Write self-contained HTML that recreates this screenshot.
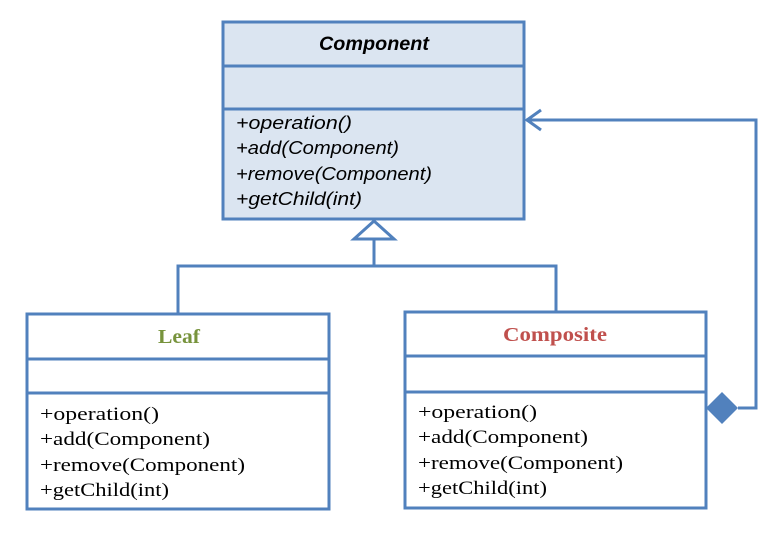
<!DOCTYPE html>
<html><head><meta charset="utf-8"><style>body{margin:0;background:#fff}svg{display:block}</style></head><body>
<svg width="780" height="536" xmlns="http://www.w3.org/2000/svg">
<g stroke="#5181bd" stroke-width="3" fill="none">
<rect x="223" y="22" width="301" height="197" fill="#dbe5f1"/>
<line x1="223" y1="66" x2="524" y2="66"/>
<line x1="223" y1="109" x2="524" y2="109"/>
<rect x="27" y="314" width="302" height="195" fill="#fff"/>
<line x1="27" y1="359" x2="329" y2="359"/>
<line x1="27" y1="393" x2="329" y2="393"/>
<rect x="405" y="312" width="301" height="196" fill="#fff"/>
<line x1="405" y1="356" x2="706" y2="356"/>
<line x1="405" y1="392" x2="706" y2="392"/>
<polyline points="178,314 178,266 556,266 556,312"/>
<line x1="374" y1="266" x2="374" y2="239"/>
<polygon points="374,221 354,239 394,239" fill="#fff"/>
<polyline points="738,408 756,408 756,120 526,120"/>
<polyline points="541,110 527,120 541,130"/>
</g>
<polygon points="706,408 722,392 738,408 722,424" fill="#5181bd"/>
<g font-family="Liberation Sans, sans-serif" font-style="italic" fill="#000" lengthAdjust="spacingAndGlyphs">
<text x="319" y="50" font-weight="bold" font-size="19" textLength="110" lengthAdjust="spacingAndGlyphs">Component</text>
<g font-size="18">
<text x="236" y="129" textLength="116" lengthAdjust="spacingAndGlyphs">+operation()</text>
<text x="236" y="154" textLength="163" lengthAdjust="spacingAndGlyphs">+add(Component)</text>
<text x="236" y="180" textLength="196" lengthAdjust="spacingAndGlyphs">+remove(Component)</text>
<text x="236" y="205" textLength="126" lengthAdjust="spacingAndGlyphs">+getChild(int)</text>
</g></g>
<g font-family="Liberation Serif, serif" fill="#000" font-size="19">
<text x="158" y="343" font-weight="bold" font-size="20" fill="#77933c" textLength="42" lengthAdjust="spacingAndGlyphs">Leaf</text>
<text x="40" y="420" textLength="119" lengthAdjust="spacingAndGlyphs">+operation()</text>
<text x="40" y="445" textLength="170" lengthAdjust="spacingAndGlyphs">+add(Component)</text>
<text x="40" y="471" textLength="205" lengthAdjust="spacingAndGlyphs">+remove(Component)</text>
<text x="40" y="496" textLength="129" lengthAdjust="spacingAndGlyphs">+getChild(int)</text>
<text x="503" y="341" font-weight="bold" font-size="20" fill="#c0504d" textLength="104" lengthAdjust="spacingAndGlyphs">Composite</text>
<text x="418" y="418" textLength="119" lengthAdjust="spacingAndGlyphs">+operation()</text>
<text x="418" y="443" textLength="170" lengthAdjust="spacingAndGlyphs">+add(Component)</text>
<text x="418" y="469" textLength="205" lengthAdjust="spacingAndGlyphs">+remove(Component)</text>
<text x="418" y="494" textLength="129" lengthAdjust="spacingAndGlyphs">+getChild(int)</text>
</g>
</svg>
</body></html>
